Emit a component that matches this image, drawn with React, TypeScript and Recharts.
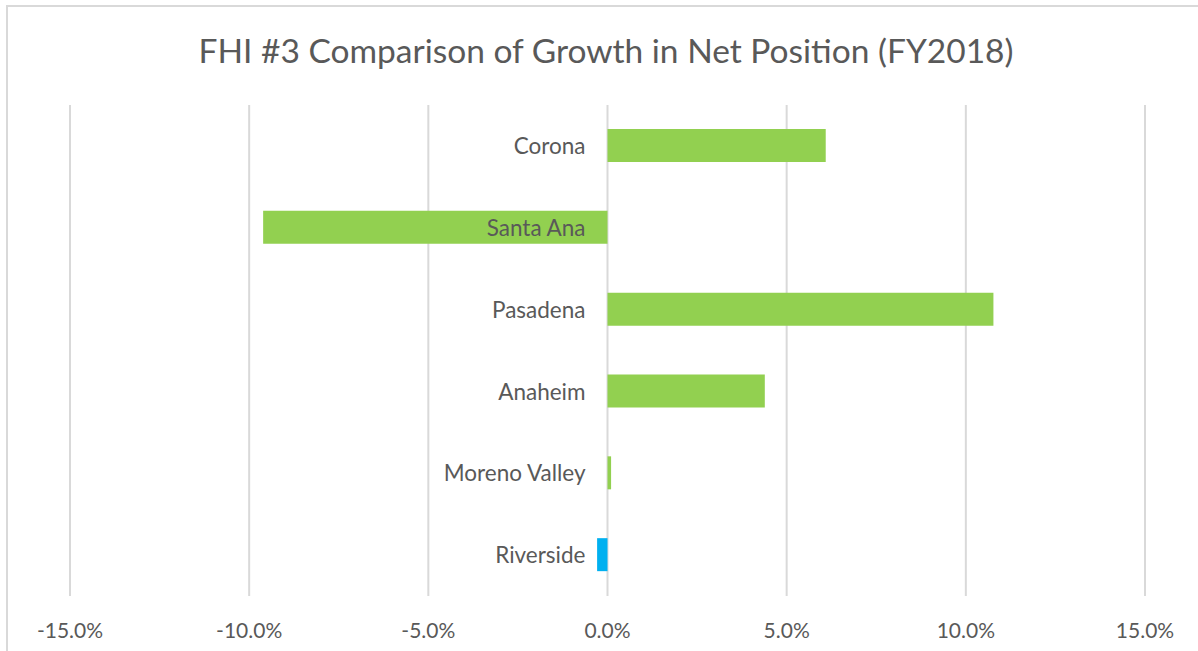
import * as React from 'react';
import { BarChart, Bar, XAxis, YAxis, CartesianGrid, Cell, LabelList } from 'recharts';

const cities = ['Corona', 'Santa Ana', 'Pasadena', 'Anaheim', 'Moreno Valley', 'Riverside'];
const growth = [0.0609, -0.0961, 0.1077, 0.0439, 0.001, -0.0029];
const barColors = ['#92D050', '#92D050', '#92D050', '#92D050', '#92D050', '#00B0F0'];
const xTicks = [-0.15, -0.1, -0.05, 0, 0.05, 0.1, 0.15];

const FONT = 'Lato, "Noto Sans", sans-serif';

// city names sit just left of the zero line, whatever the sign of the bar
const CityLabel = (props: any) => {
    const { x, y, height, value } = props;
    return (
        <text
            x={x - 22}
            y={y + height / 2}
            textAnchor="end"
            dominantBaseline="central"
            fill="#595959"
            fontSize={22.5}
            fontFamily={FONT}
        >
            {value}
        </text>
    );
};

const App: React.FC = () => {
    const data = cities.map((name, i) => ({ name, value: growth[i] }));

    return (
        <div style={{ position: 'fixed', left: 0, top: 0, width: 1198, height: 651, background: '#fff', overflow: 'hidden' }}>
            <div style={{ position: 'absolute', left: 6, top: 5, width: 1300, height: 700, borderTop: '2px solid #d9d9d9', borderLeft: '2px solid #d9d9d9' }} />
            <div style={{ position: 'absolute', left: 0, width: 1212, top: 27, textAlign: 'center', fontFamily: FONT, fontSize: 33.5, color: '#595959', lineHeight: '46px' }}>
                FHI #3 Comparison of Growth in Net Position (FY2018)
            </div>
            <div style={{ position: 'absolute', left: 0, top: 0 }}>
                <BarChart width={1198} height={651} data={data} layout="vertical" margin={{ top: 105, right: 53, left: 70, bottom: 0 }} barSize={33}>
                    <CartesianGrid horizontal={false} stroke="#d9d9d9" strokeWidth={2} />
                    <XAxis
                        type="number"
                        domain={[-0.15, 0.15]}
                        ticks={xTicks}
                        height={55}
                        axisLine={false}
                        tickLine={false}
                        tickMargin={21}
                        tickFormatter={(v) => `${(v * 100).toFixed(1)}%`}
                        tick={{ fill: '#595959', fontSize: 21, fontFamily: FONT }}
                    />
                    <YAxis type="category" dataKey="name" hide />
                    <Bar dataKey="value" isAnimationActive={false}>
                        {data.map((d, i) => (
                            <Cell key={d.name} fill={barColors[i]} />
                        ))}
                        <LabelList dataKey="name" content={CityLabel} />
                    </Bar>
                </BarChart>
            </div>
        </div>
    );
};

export default App;
